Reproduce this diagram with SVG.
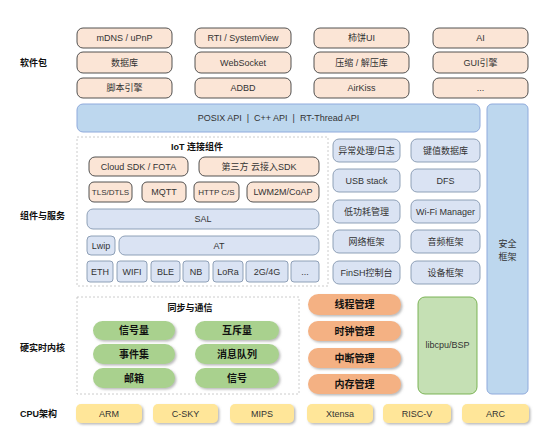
<svg xmlns="http://www.w3.org/2000/svg" width="556" height="436" viewBox="0 0 556 436">
<defs>
<filter id="sh" x="-10%" y="-20%" width="130%" height="160%">
<feDropShadow dx="1.5" dy="1.5" stdDeviation="1" flood-color="#7f7f7f" flood-opacity="0.55"/>
</filter>
</defs>
<style>
text{font-family:"Liberation Sans","Noto Sans CJK SC",sans-serif;font-size:9px;fill:#333;text-anchor:middle;dominant-baseline:central}
.lbl{font-weight:bold;text-anchor:start;fill:#111}
.ttl{font-weight:bold;fill:#111}
.sm{font-size:8px}
.pk rect{fill:#fbe5d6;stroke:#404040;stroke-width:0.9}
.api{fill:#bdd7ee;stroke:#8faadc;stroke-width:1}
.lb rect{fill:#dae3f3;stroke:#8497b0;stroke-width:0.9}
.iot rect.p{fill:#fbe5d6;stroke:#404040;stroke-width:0.9}
.dash{fill:none;stroke:#bfbfbf;stroke-width:0.8;stroke-dasharray:2 2}
.gr rect{fill:#a9d18e;filter:url(#sh)}
.gr text,.or text{font-weight:bold;font-size:10px;fill:#111}
.or rect{fill:#f4b183;filter:url(#sh)}
.ye rect{fill:#ffe699;filter:url(#sh)}
.bsp{fill:#c5e0b4;stroke:#70ad47;stroke-width:0.9}
</style>

<g id="labels">
<text class="lbl" x="20" y="63">软件包</text>
<text class="lbl" x="20" y="216">组件与服务</text>
<text class="lbl" x="20" y="348">硬实时内核</text>
<text class="lbl" x="20" y="414">CPU架构</text>
</g>

<g id="packages" class="pk">
<g id="pk-mdns"><rect x="77" y="28" width="95" height="20" rx="6"/><text x="124.5" y="38">mDNS / uPnP</text></g>
<g id="pk-rti"><rect x="195" y="28" width="96" height="20" rx="6"/><text x="243" y="38">RTI / SystemView</text></g>
<g id="pk-ui"><rect x="314" y="28" width="95" height="20" rx="6"/><text x="361.5" y="38">柿饼UI</text></g>
<g id="pk-ai"><rect x="433" y="28" width="95" height="20" rx="6"/><text x="480.5" y="38">AI</text></g>
<g id="pk-db"><rect x="77" y="52" width="95" height="21" rx="6"/><text x="124.5" y="62.5">数据库</text></g>
<g id="pk-ws"><rect x="195" y="52" width="96" height="21" rx="6"/><text x="243" y="62.5">WebSocket</text></g>
<g id="pk-zip"><rect x="314" y="52" width="95" height="21" rx="6"/><text x="361.5" y="62.5">压缩 / 解压库</text></g>
<g id="pk-gui"><rect x="433" y="52" width="95" height="21" rx="6"/><text x="480.5" y="62.5">GUI引擎</text></g>
<g id="pk-script"><rect x="77" y="78" width="95" height="20" rx="6"/><text x="124.5" y="88">脚本引擎</text></g>
<g id="pk-adbd"><rect x="195" y="78" width="96" height="20" rx="6"/><text x="243" y="88">ADBD</text></g>
<g id="pk-airkiss"><rect x="314" y="78" width="95" height="20" rx="6"/><text x="361.5" y="88">AirKiss</text></g>
<g id="pk-more"><rect x="433" y="78" width="95" height="20" rx="6"/><text x="480.5" y="88">...</text></g>
</g>

<g id="api"><rect class="api" x="77" y="104" width="403" height="28" rx="6"/><text x="278.5" y="118" style="white-space:pre">POSIX API  |  C++ API  |  RT-Thread API</text></g>
<g id="security"><rect class="api" x="487" y="104" width="41" height="290" rx="5"/><text x="507.5" y="244">安全</text><text x="507.5" y="257">框架</text></g>

<g id="iot">
<rect class="dash" x="77" y="137" width="251" height="149"/>
<text class="ttl" x="197" y="147">IoT 连接组件</text>
<g class="iot">
<g id="cloud"><rect class="p" x="89" y="157" width="99" height="19" rx="6"/><text x="138.5" y="166.5">Cloud SDK / FOTA</text></g>
<g id="third"><rect class="p" x="199" y="157" width="120" height="19" rx="6"/><text x="259" y="166.5">第三方 云接入SDK</text></g>
<g id="tls"><rect class="p" x="89" y="182" width="43" height="20" rx="5"/><text class="sm" x="110.5" y="192">TLS/DTLS</text></g>
<g id="mqtt"><rect class="p" x="142" y="182" width="44" height="20" rx="5"/><text x="164" y="192">MQTT</text></g>
<g id="http"><rect class="p" x="194" y="182" width="45" height="20" rx="5"/><text class="sm" x="216.5" y="192">HTTP C/S</text></g>
<g id="lwm2m"><rect class="p" x="247" y="182" width="72" height="20" rx="6"/><text x="283" y="192">LWM2M/CoAP</text></g>
</g>
<g class="lb">
<g id="sal"><rect x="87" y="209" width="232" height="20" rx="6"/><text x="203" y="219">SAL</text></g>
<g id="lwip"><rect x="87" y="236" width="28" height="19" rx="4"/><text x="101" y="245.5">Lwip</text></g>
<g id="at"><rect x="119" y="236" width="200" height="19" rx="6"/><text x="219" y="245.5">AT</text></g>
<g id="eth"><rect x="87" y="261" width="26" height="21" rx="3"/><text x="100" y="271.5">ETH</text></g>
<g id="wifi"><rect x="117" y="261" width="30" height="21" rx="3"/><text x="132" y="271.5">WIFI</text></g>
<g id="ble"><rect x="151" y="261" width="29" height="21" rx="3"/><text x="165.5" y="271.5">BLE</text></g>
<g id="nb"><rect x="183" y="261" width="26" height="21" rx="3"/><text x="196" y="271.5">NB</text></g>
<g id="lora"><rect x="213" y="261" width="30" height="21" rx="3"/><text x="228" y="271.5">LoRa</text></g>
<g id="g24"><rect x="246" y="261" width="42" height="21" rx="3"/><text x="267" y="271.5">2G/4G</text></g>
<g id="dots"><rect x="291" y="261" width="28" height="21" rx="3"/><text x="305" y="271.5">...</text></g>
</g>
</g>

<g id="services" class="lb">
<g id="exc"><rect x="333" y="139" width="67" height="23" rx="6"/><text x="366.5" y="150.5">异常处理/日志</text></g>
<g id="kv"><rect x="411" y="139" width="69" height="23" rx="6"/><text x="445.5" y="150.5">键值数据库</text></g>
<g id="usb"><rect x="333" y="169" width="67" height="23" rx="6"/><text x="366.5" y="180.5">USB stack</text></g>
<g id="dfs"><rect x="411" y="169" width="69" height="23" rx="6"/><text x="445.5" y="180.5">DFS</text></g>
<g id="pm"><rect x="333" y="200" width="67" height="23" rx="6"/><text x="366.5" y="211.5">低功耗管理</text></g>
<g id="wlan"><rect x="411" y="200" width="69" height="23" rx="6"/><text x="445.5" y="211.5">Wi-Fi Manager</text></g>
<g id="net"><rect x="333" y="230" width="67" height="23" rx="6"/><text x="366.5" y="241.5">网络框架</text></g>
<g id="audio"><rect x="411" y="230" width="69" height="23" rx="6"/><text x="445.5" y="241.5">音频框架</text></g>
<g id="finsh"><rect x="333" y="261" width="67" height="23" rx="6"/><text x="366.5" y="272.5">FinSH控制台</text></g>
<g id="dev"><rect x="411" y="261" width="69" height="23" rx="6"/><text x="445.5" y="272.5">设备框架</text></g>
</g>

<g id="ipc">
<rect class="dash" x="77" y="297" width="222" height="97"/>
<text class="ttl" x="190" y="308">同步与通信</text>
<g class="gr">
<g id="sem"><rect x="93" y="321" width="82" height="19" rx="9.5"/><text x="134" y="330.5">信号量</text></g>
<g id="mutex"><rect x="195" y="321" width="84" height="19" rx="9.5"/><text x="237" y="330.5">互斥量</text></g>
<g id="event"><rect x="93" y="344" width="82" height="20" rx="10"/><text x="134" y="354">事件集</text></g>
<g id="mq"><rect x="195" y="344" width="84" height="20" rx="10"/><text x="237" y="354">消息队列</text></g>
<g id="mb"><rect x="93" y="368" width="82" height="20" rx="10"/><text x="134" y="378">邮箱</text></g>
<g id="sig"><rect x="195" y="368" width="84" height="20" rx="10"/><text x="237" y="378">信号</text></g>
</g>
</g>

<g id="kernel" class="or">
<g id="thread"><rect x="308" y="294" width="93" height="21" rx="10.5"/><text x="354.5" y="304.5">线程管理</text></g>
<g id="clock"><rect x="308" y="321" width="93" height="20" rx="10"/><text x="354.5" y="331">时钟管理</text></g>
<g id="irq"><rect x="308" y="348" width="93" height="20" rx="10"/><text x="354.5" y="358">中断管理</text></g>
<g id="mem"><rect x="308" y="374" width="93" height="20" rx="10"/><text x="354.5" y="384">内存管理</text></g>
</g>

<g id="bsp"><rect class="bsp" x="418" y="297" width="59" height="97" rx="7"/><text x="447.5" y="345">libcpu/BSP</text></g>

<g id="cpu" class="ye">
<g id="arm"><rect x="76" y="404" width="66" height="19" rx="5"/><text x="109" y="413.5">ARM</text></g>
<g id="csky"><rect x="153" y="404" width="65" height="19" rx="5"/><text x="185.5" y="413.5">C-SKY</text></g>
<g id="mips"><rect x="230" y="404" width="64" height="19" rx="5"/><text x="262" y="413.5">MIPS</text></g>
<g id="xtensa"><rect x="307" y="404" width="66" height="19" rx="5"/><text x="340" y="413.5">Xtensa</text></g>
<g id="riscv"><rect x="383" y="404" width="68" height="19" rx="5"/><text x="417" y="413.5">RISC-V</text></g>
<g id="arc"><rect x="462" y="404" width="67" height="19" rx="5"/><text x="495.5" y="413.5">ARC</text></g>
</g>

<g id="connectors"/>
</svg>
